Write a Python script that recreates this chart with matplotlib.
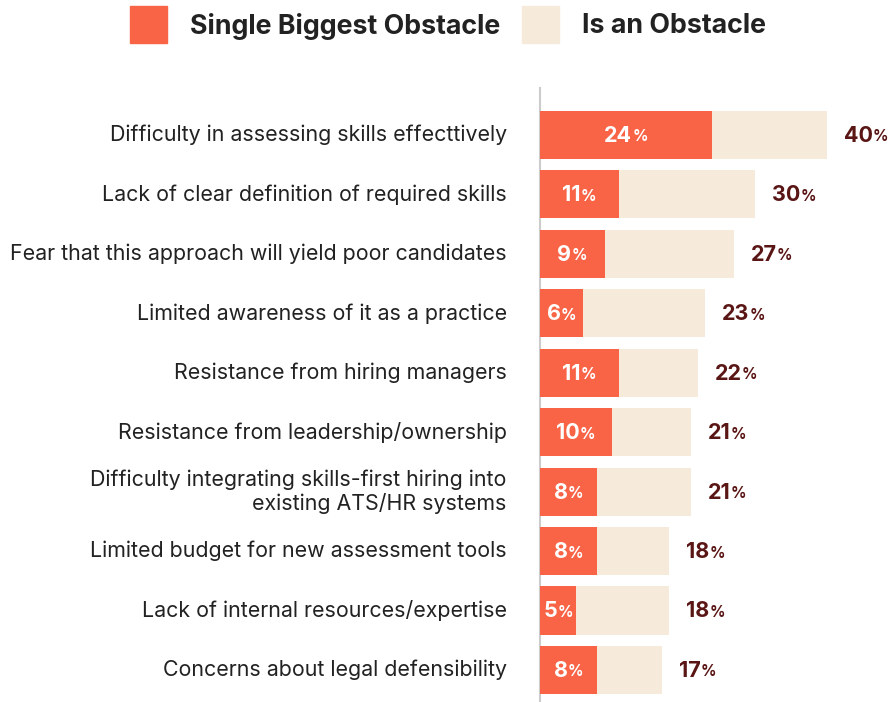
import matplotlib
matplotlib.use("Agg")
import matplotlib.pyplot as plt
from matplotlib.patches import Rectangle

categories = [
    "Difficulty in assessing skills effecttively",
    "Lack of clear definition of required skills",
    "Fear that this approach will yield poor candidates",
    "Limited awareness of it as a practice",
    "Resistance from hiring managers",
    "Resistance from leadership/ownership",
    "Difficulty integrating skills-first hiring into\nexisting ATS/HR systems",
    "Limited budget for new assessment tools",
    "Lack of internal resources/expertise",
    "Concerns about legal defensibility",
]
single_biggest = [24, 11, 9, 6, 11, 10, 8, 8, 5, 8]
is_obstacle = [40, 30, 27, 23, 22, 21, 21, 18, 18, 17]
series_names = ["Single Biggest Obstacle", "Is an Obstacle"]

ORANGE = "#F96447"
BEIGE = "#F6EADB"
DARK_RED = "#5A1515"
TEXT = "#222222"
FONT = "Inter"

W, H = 891, 702
fig = plt.figure(figsize=(W / 100, H / 100), dpi=100)
fig.patch.set_facecolor("white")

ax_left, ax_top = 540, 88
px_per_unit = 7.17
ax = fig.add_axes([ax_left / W, 0, (W - ax_left) / W, (H - ax_top) / H])
ax.set_xlim(0, (W - ax_left) / px_per_unit)
ax.set_ylim(9.54, -0.79)

ypos = list(range(len(categories)))
ax.barh(ypos, is_obstacle, height=0.81, color=BEIGE, zorder=2)
ax.barh(ypos, single_biggest, height=0.81, color=ORANGE, zorder=3)

for s in ["top", "right", "bottom"]:
    ax.spines[s].set_visible(False)
ax.spines["left"].set_color("#cccccc")
ax.spines["left"].set_linewidth(1.5)
ax.set_xticks([])
ax.set_yticks([])

# category labels to the left of the axis
for y, cat in zip(ypos, categories):
    ax.annotate(cat, xy=(0, y), xycoords="data", xytext=(-24, 0),
                textcoords="offset points", ha="right", va="center",
                fontsize=15.4, family=FONT, color=TEXT, linespacing=1.15,
                annotation_clip=False)

fig.canvas.draw()
renderer = fig.canvas.get_renderer()


def value_label(x, y, value, color, centered):
    num = ax.text(x, y, str(value), ha="left", va="center", fontsize=15.5,
                  fontweight="bold", family=FONT, color=color, zorder=5)
    pct = ax.text(x, y, "%", ha="left", va="center", fontsize=11,
                  fontweight="bold", family=FONT, color=color, zorder=5)
    bn = num.get_window_extent(renderer)
    bp = pct.get_window_extent(renderer)
    gap = 0.2
    total_w = bn.width + bp.width + gap
    x_disp, y_disp = ax.transData.transform((x, y))
    start = x_disp - total_w / 2 if centered else x_disp
    inv = ax.transData.inverted()
    num.set_position(inv.transform((start, y_disp - 1)))
    pct.set_position(inv.transform((start + bn.width + gap, y_disp - 2)))


for y, s, t in zip(ypos, single_biggest, is_obstacle):
    value_label(s / 2, y, s, "white", True)
    value_label(t + 17 / px_per_unit, y, t, DARK_RED, False)


# legend drawn in figure pixel coordinates
def px_rect(x0, y0, w, h, color):
    fig.patches.append(Rectangle((x0 / W, 1 - (y0 + h) / H), w / W, h / H,
                                 transform=fig.transFigure, color=color))


px_rect(130, 6, 37, 37, ORANGE)
fig.text(190 / W, 1 - 26 / H, series_names[0], ha="left", va="center",
         fontsize=19.3, fontweight="bold", family=FONT, color=TEXT)
px_rect(522, 6, 37, 37, BEIGE)
fig.text(582 / W, 1 - 26 / H, series_names[1], ha="left", va="center",
         fontsize=19.3, fontweight="bold", family=FONT, color=TEXT)

fig.savefig("out.png", dpi=100, facecolor="white")
